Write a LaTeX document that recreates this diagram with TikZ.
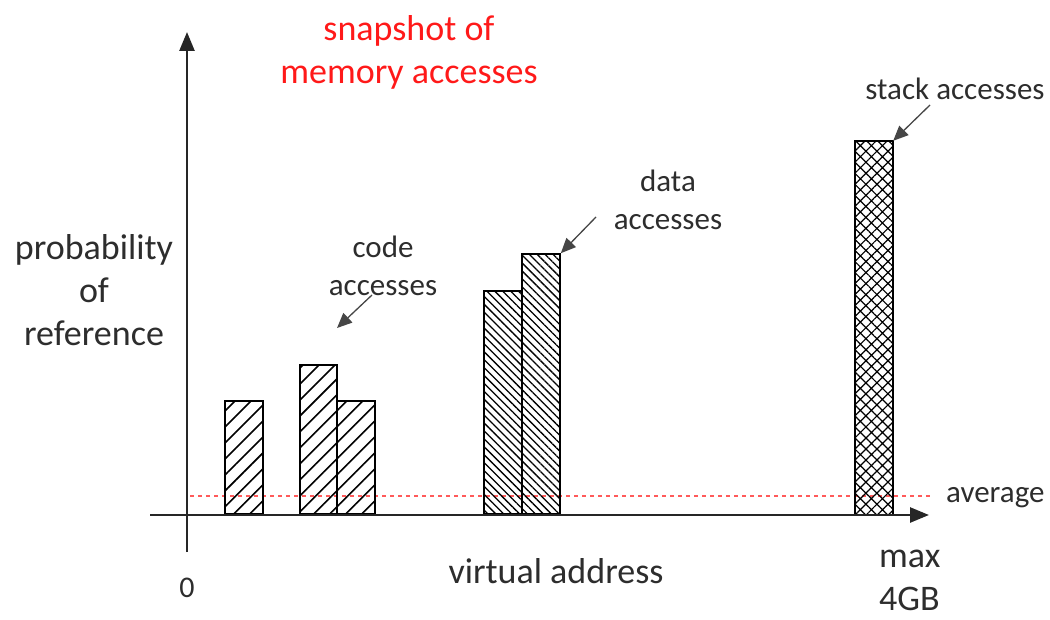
\documentclass[tikz,border=0pt]{standalone}
\usepackage{fontspec}
\setmainfont{Carlito}
\usetikzlibrary{patterns.meta,arrows.meta}
\definecolor{txt}{RGB}{45,45,45}
\definecolor{titlered}{RGB}{255,25,25}
\definecolor{avgred}{RGB}{255,90,90}
\definecolor{pointer}{RGB}{70,70,70}
\tikzset{
  big/.style={font=\fontsize{36}{43}\selectfont, text=txt, align=center, inner sep=0pt},
  small/.style={font=\fontsize{31}{38}\selectfont, text=txt, align=center, inner sep=0pt},
  axis/.style={line width=2.6pt, black!85, -{Triangle[length=19pt,width=15pt]}},
  bar/.style={draw=black, line width=1.8pt, inner sep=0pt, anchor=south west},
  fwd/.style={pattern={Lines[angle=45,distance=11.3pt,line width=1.6pt]}},
  bwd/.style={pattern={Lines[angle=-45,distance=5.6pt,line width=1.3pt]}},
  cross/.style={pattern={Hatch[angle=45,distance=7.8pt,line width=1.2pt]}},
  pointerarrow/.style={line width=1.3pt, pointer, -{Triangle[length=15pt,width=13pt]}},
  avgline/.style={avgred, line width=1.1pt, dash pattern=on 4pt off 4pt}
}
\begin{document}
\begin{tikzpicture}[x=1pt,y=-1pt]
\useasboundingbox (0,0) rectangle (1050,620);
% average line
\coordinate (avgL) at (190,496);
\coordinate (avgR) at (930,496);
\draw[avgline] (avgL) -- (avgR);
% bars
\node[bar, fwd, minimum width=38pt, minimum height=113pt] (b1) at (224,515) {};
\node[bar, fwd, minimum width=37pt, minimum height=149pt] (b2) at (299,515) {};
\node[bar, fwd, minimum width=38pt, minimum height=113pt] (b3) at (336,515) {};
\node[bar, bwd, minimum width=38pt, minimum height=223pt] (b4) at (483,515) {};
\node[bar, bwd, minimum width=38pt, minimum height=260pt] (b5) at (521,515) {};
\node[bar, cross, minimum width=38pt, minimum height=373pt] (b6) at (854,515) {};
% axes
\coordinate (yB) at (187,552);
\coordinate (yT) at (187,32);
\coordinate (xL) at (150,515);
\coordinate (xR) at (929,515);
\draw[axis] (yB) -- (yT);
\draw[axis] (xL) -- (xR);
% texts
\node[big, text=titlered] (title) at (409,52) {snapshot of\\memory accesses};
\node[big] (ylab) at (94,290) {probability\\of\\reference};
\node[small] (code) at (383,266) {code\\accesses};
\node[small] (data) at (668,200) {data\\accesses};
\node[small] (stack) at (955,89) {stack accesses};
\node[small, anchor=west] (avg) at (946,498) {average};
\node[big] (xlab) at (556,571) {virtual address};
\node[big, font=\fontsize{30}{36}\selectfont] (zero) at (187,588) {0};
\node[big, align=left, anchor=north west] (max) at (879,550) {max\\4GB};
% pointers
\coordinate (codeS) at (372,295);
\coordinate (codeE) at (337,328);
\draw[pointerarrow] (codeS) -- (codeE);
\coordinate (dataS) at (596,217);
\draw[pointerarrow] (dataS) -- (b5.north east);
\coordinate (stackS) at (930,105);
\draw[pointerarrow] (stackS) -- (b6.north east);
\end{tikzpicture}
\end{document}
